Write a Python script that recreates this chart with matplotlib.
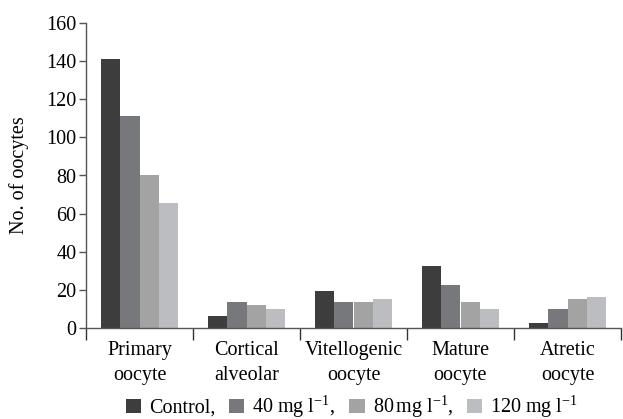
import matplotlib
matplotlib.use("Agg")
import matplotlib.pyplot as plt
import numpy as np

categories = ["Primary\noocyte", "Cortical\nalveolar", "Vitellogenic\noocyte", "Mature\noocyte", "Atretic\noocyte"]
series_names = ["Control,", r"40 mg l$^{-1}$,", r"80$\,$mg l$^{-1}$,", r"120 mg l$^{-1}$"]
control = [141, 6.5, 19.5, 32.5, 2.5]
mg40 = [111, 13.5, 13.5, 22.5, 10]
mg80 = [80, 12, 13.5, 13.5, 15]
mg120 = [65.5, 10, 15, 10, 16.5]
colors = ["#3d3d3d", "#77787c", "#a3a3a3", "#bcbdc0"]
yticks = [0, 20, 40, 60, 80, 100, 120, 140, 160]

plt.rcParams['font.family'] = ['Liberation Serif', 'DejaVu Serif']
plt.rcParams['mathtext.fontset'] = 'custom'
plt.rcParams['mathtext.rm'] = 'Liberation Serif'
plt.rcParams['mathtext.it'] = 'Liberation Serif'
plt.rcParams['mathtext.default'] = 'regular'

fig = plt.figure(figsize=(6.23, 4.19), dpi=100)
ax = fig.add_axes([86/623, 1-328/419, (621-86)/623, (328-23)/419])

data = [control, mg40, mg80, mg120]
n = len(categories)
x = np.arange(n) + 0.5
bw = 0.182
for i, (vals, c, name) in enumerate(zip(data, colors, series_names)):
    ax.bar(x + (i - 1.5) * bw, vals, width=bw, color=c, label=name, linewidth=0)

ax.set_xlim(0, n)
ax.set_ylim(0, 160)
ax.set_yticks(yticks)
ax.set_xticks(x)
ax.set_xticklabels(categories, fontsize=14.5, linespacing=1.45)
ax.tick_params(axis='x', which='major', length=0, pad=9)
ax.set_xticks(np.arange(n + 1), minor=True)
ax.tick_params(axis='x', which='minor', length=8.5, width=1, color='#333333', direction='out')
ax.tick_params(axis='y', length=5, width=1, color='#555555', labelsize=14.5, pad=2)
for s in ['top', 'right']:
    ax.spines[s].set_visible(False)
for s in ['left', 'bottom']:
    ax.spines[s].set_color('#555555')
    ax.spines[s].set_linewidth(1)
ax.set_ylabel("No. of oocytes", fontsize=14.5, labelpad=12)

fig.legend(loc='center', bbox_to_anchor=(352/623, 1-407/419), ncol=4, frameon=False,
           fontsize=14.5, handlelength=0.75, handleheight=0.75, handletextpad=0.4,
           columnspacing=0.7, borderpad=0)

fig.savefig("out.png", dpi=100)
